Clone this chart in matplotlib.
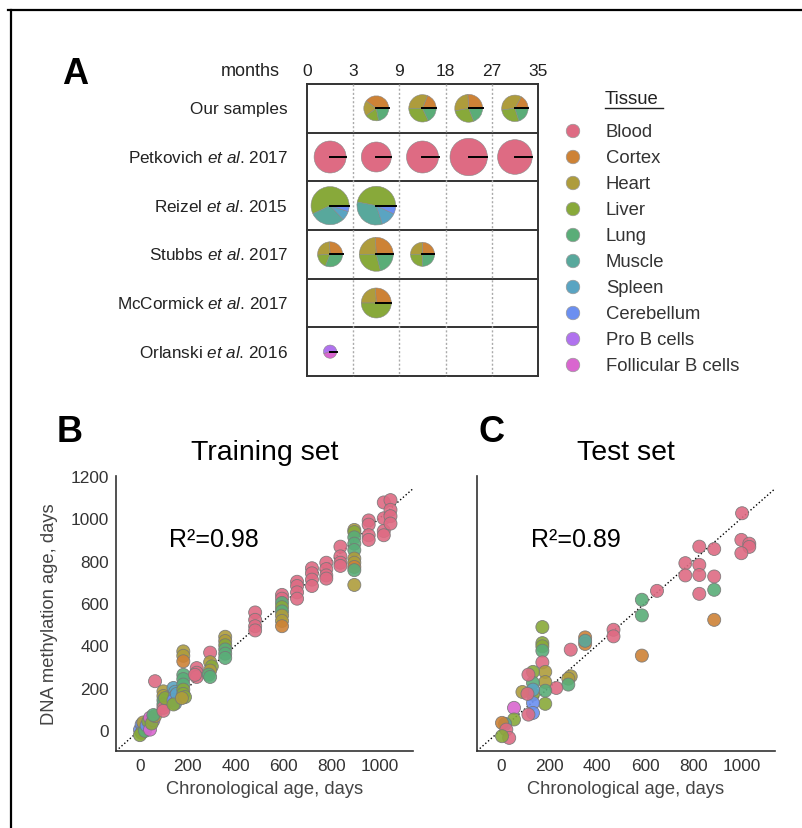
import numpy as np
import matplotlib
matplotlib.use('Agg')
import matplotlib.pyplot as plt
from matplotlib.patches import Wedge

plt.rcParams['font.family'] = ['Liberation Sans', 'DejaVu Sans']
plt.rcParams['mathtext.fontset'] = 'custom'
plt.rcParams['mathtext.rm'] = 'Liberation Sans'
plt.rcParams['mathtext.it'] = 'Liberation Sans:italic'

# tissues and colours
tissues = ['Blood', 'Cortex', 'Heart', 'Liver', 'Lung', 'Muscle', 'Spleen',
           'Cerebellum', 'Pro B cells', 'Follicular B cells']
tissue_colors = ['#de6b83', '#cd8236', '#ae9c3c', '#88a93a', '#5aad78',
                 '#58a89c', '#5aa4c2', '#6b8ff0', '#b072ee', '#d966cf']

# panel A data
studies = ['Our samples', r'Petkovich $\mathit{et\ al}$. 2017', r'Reizel $\mathit{et\ al}$. 2015',
           r'Stubbs $\mathit{et\ al}$. 2017', r'McCormick $\mathit{et\ al}$. 2017',
           r'Orlanski $\mathit{et\ al}$. 2016']
months = ['0', '3', '9', '18', '27', '35']
# relative sample size of each pie (0 = no samples)
pie_n = [[0, 25, 30, 31, 28],
         [41, 36, 41, 56, 48],
         [58, 60, 0, 0, 0],
         [25, 46, 23, 0, 0],
         [0, 36, 0, 0, 0],
         [7, 0, 0, 0, 0]]
our_mix = [None,
           {'Cortex': .40, 'Heart': .20, 'Liver': .18, 'Lung': .22},
           {'Cortex': .19, 'Heart': .31, 'Liver': .32, 'Lung': .18},
           {'Cortex': .26, 'Heart': .27, 'Liver': .28, 'Lung': .19},
           {'Cortex': .17, 'Heart': .35, 'Liver': .28, 'Lung': .20}]
petkovich_mix = [{'Blood': 1}] * 5
reizel_mix = [{'Liver': .57, 'Muscle': .30, 'Spleen': .08, 'Cerebellum': .05},
              {'Liver': .47, 'Muscle': .33, 'Spleen': .13, 'Cerebellum': .07},
              None, None, None]
stubbs_mix = [{'Cortex': .26, 'Heart': .25, 'Liver': .18, 'Lung': .31},
              {'Cortex': .26, 'Heart': .24, 'Liver': .29, 'Lung': .21},
              {'Cortex': .25, 'Heart': .25, 'Liver': .25, 'Lung': .25},
              None, None]
mccormick_mix = [None, {'Cortex': .26, 'Heart': .24, 'Liver': .50}, None, None, None]
orlanski_mix = [{'Pro B cells': .55, 'Follicular B cells': .45}, None, None, None, None]
pie_mix = [our_mix, petkovich_mix, reizel_mix, stubbs_mix, mccormick_mix, orlanski_mix]

# panel B: training set (chronological age, predicted age, tissue)
train_age = [0, 7, 14, 7, 0, 14, 21, 28, 35, 42, 42, 56, 49, 63, 56, 63,
             98, 98, 98, 98, 98, 98, 105,
             140, 147, 147, 140, 147, 154, 140,
             181, 181, 181, 181, 181, 181, 181, 181, 188, 175,
             237, 237, 237, 230,
             293, 293, 300, 293, 287, 293,
             356, 356, 356, 356, 356, 356,
             481, 481, 481, 481,
             593, 593, 593, 593, 593, 593, 593, 593,
             656, 656, 656, 656,
             718, 718, 718, 718,
             778, 778, 778, 778,
             837, 837, 837, 837,
             895, 895, 895, 895, 895, 895, 895, 895, 895, 895,
             955, 955, 955, 955,
             1018, 1018, 1018, 1018,
             1046, 1046, 1046, 1046]
train_pred = [0, 25, 10, -14, -25, 35, -5, 20, 40, 57, 1, 45, 30, 65, 70, 230,
              182, 160, 140, 120, 104, 90, 150,
              198, 180, 160, 140, 125, 170, 120,
              371, 350, 324, 260, 240, 214, 190, 170, 155, 150,
              292, 270, 250, 260,
              365, 320, 300, 280, 261, 250,
              440, 420, 400, 380, 360, 340,
              555, 520, 490, 470,
              638, 620, 600, 580, 560, 540, 515, 490,
              700, 680, 650, 620,
              764, 740, 710, 680,
              790, 760, 730, 715,
              866, 820, 790, 775,
              945, 935, 910, 880, 850, 810, 790, 770, 755, 685,
              990, 970, 920, 898,
              1075, 1000, 940, 920,
              1086, 1040, 1010, 975]
train_tissue = ['Cerebellum', 'Cerebellum', 'Cerebellum', 'Liver', 'Liver', 'Heart', 'Lung',
                'Cerebellum', 'Liver', 'Follicular B cells', 'Follicular B cells', 'Pro B cells',
                'Liver', 'Heart', 'Lung', 'Blood',
                'Heart', 'Heart', 'Lung', 'Lung', 'Blood', 'Blood', 'Liver',
                'Spleen', 'Spleen', 'Cerebellum', 'Cerebellum', 'Spleen', 'Spleen', 'Liver',
                'Heart', 'Heart', 'Cortex', 'Lung', 'Lung', 'Lung', 'Liver', 'Liver', 'Liver', 'Heart',
                'Blood', 'Blood', 'Blood', 'Blood',
                'Blood', 'Heart', 'Liver', 'Heart', 'Lung', 'Lung',
                'Heart', 'Heart', 'Liver', 'Lung', 'Lung', 'Lung',
                'Blood', 'Blood', 'Blood', 'Blood',
                'Blood', 'Blood', 'Lung', 'Liver', 'Lung', 'Heart', 'Heart', 'Cortex',
                'Blood', 'Blood', 'Blood', 'Blood',
                'Blood', 'Blood', 'Blood', 'Blood',
                'Blood', 'Blood', 'Blood', 'Blood',
                'Blood', 'Blood', 'Blood', 'Blood',
                'Heart', 'Liver', 'Lung', 'Lung', 'Lung', 'Heart', 'Heart', 'Cortex', 'Lung', 'Heart',
                'Blood', 'Blood', 'Blood', 'Blood',
                'Blood', 'Blood', 'Blood', 'Blood',
                'Blood', 'Blood', 'Blood', 'Blood']

# panel C: test set
test_age = [1003, 1000, 1033, 1033, 1000, 825, 887, 767, 767, 825, 825, 825, 887, 887, 887,
            649, 586, 586, 586, 468, 468, 350, 350, 350, 290, 290, 280, 280, 230,
            172, 172, 172, 172, 172, 184, 184, 184, 184,
            133, 133, 133, 133, 133, 133, 114, 114, 89, 110,
            54, 54, 17, 4, 22, 34, 4]
test_pred = [1024, 898, 880, 865, 835, 866, 855, 788, 730, 780, 732, 643, 725, 662, 520,
             657, 615, 541, 351, 473, 442, 437, 406, 421, 379, 253, 242, 214, 198,
             486, 410, 395, 374, 319, 274, 226, 185, 123,
             274, 222, 167, 190, 127, 80, 261, 72, 179, 170,
             104, 49, 28, 33, 1, -38, -30]
test_tissue = ['Blood', 'Blood', 'Blood', 'Blood', 'Blood', 'Blood', 'Blood', 'Blood', 'Blood',
               'Blood', 'Blood', 'Blood', 'Blood', 'Lung', 'Cortex',
               'Blood', 'Lung', 'Lung', 'Cortex', 'Blood', 'Blood', 'Cortex', 'Cortex', 'Muscle',
               'Blood', 'Heart', 'Heart', 'Lung', 'Blood',
               'Liver', 'Liver', 'Liver', 'Lung', 'Blood', 'Heart', 'Heart', 'Lung', 'Liver',
               'Liver', 'Lung', 'Liver', 'Spleen', 'Cerebellum', 'Cerebellum', 'Blood', 'Blood',
               'Heart', 'Blood',
               'Follicular B cells', 'Liver', 'Muscle', 'Cortex', 'Blood', 'Blood', 'Liver']

cmap = dict(zip(tissues, tissue_colors))

fig = plt.figure(figsize=(8.03, 8.29), dpi=100)

# whole figure overlay in pixel units for panel A
ax_a = fig.add_axes([0, 0, 1, 1])
ax_a.set_xlim(0, 803)
ax_a.set_ylim(829, 0)
ax_a.axis('off')

ax_a.plot([8, 803], [11, 11], color='k', lw=1.6, clip_on=False)
ax_a.plot([11, 11], [11, 829], color='k', lw=1.6, clip_on=False)

col_edges = np.linspace(307, 538, 6)
row_edges = np.linspace(85, 377, 7)
col_mid = (col_edges[:-1] + col_edges[1:]) / 2
row_mid = (row_edges[:-1] + row_edges[1:]) / 2

for y in row_edges:
    ax_a.plot([col_edges[0], col_edges[-1]], [y, y], color='#333333', lw=1.4)
for x in [col_edges[0], col_edges[-1]]:
    ax_a.plot([x, x], [row_edges[0], row_edges[-1]], color='#333333', lw=1.4)
for x in col_edges[1:-1]:
    ax_a.plot([x, x], [row_edges[0], row_edges[-1]], color='#aaaaaa', lw=1, ls=(0, (1.5, 1.5)))

ax_a.text(280, 71, 'months', ha='right', va='center', fontsize=13, color='#222222')
for x, m in zip(col_edges, months):
    ax_a.text(x, 71, m, ha='center', va='center', fontsize=12.5, color='#222222')

for i, s in enumerate(studies):
    ax_a.text(288, row_mid[i], s, ha='right', va='center', fontsize=12.3, color='#222222')

for i in range(len(studies)):
    for j in range(5):
        mix = pie_mix[i][j]
        if mix is None or pie_n[i][j] == 0:
            continue
        r = 2.5 * np.sqrt(pie_n[i][j])
        cx, cy = col_mid[j], row_mid[i]
        start = 0
        for t in tissues:
            if t not in mix:
                continue
            ang = 360 * mix[t]
            # y axis is inverted, so negate angles to keep counterclockwise
            ax_a.add_patch(Wedge((cx, cy), r, -(start + ang), -start, facecolor=cmap[t],
                                 edgecolor='#888888', lw=0.4))
            start += ang
        ax_a.plot([cx, cx + r], [cy, cy], color='k', lw=1.4)

# legend
ax_a.text(605, 99, 'Tissue', ha='left', va='center', fontsize=13.3, color='#222222')
ax_a.plot([605, 663], [109, 109], color='#222222', lw=1)
leg_y = 132 + 26 * np.arange(len(tissues))
ax_a.scatter(np.full(len(tissues), 573), leg_y, s=95, c=tissue_colors,
             edgecolors='#999999', linewidths=0.5)
for y, t in zip(leg_y, tissues):
    ax_a.text(606, y, t, ha='left', va='center', fontsize=13.3, color='#333333')

for lab, x, y in [('A', 75, 74), ('B', 70, 432), ('C', 492, 432)]:
    ax_a.text(x, y, lab, ha='center', va='center', fontsize=26, fontweight='bold')

# panels B and C
ax_b = fig.add_axes([116 / 803, 1 - 752 / 829, (413 - 116) / 803, (752 - 477) / 829])
ax_c = fig.add_axes([477 / 803, 1 - 752 / 829, (775 - 477) / 803, (752 - 477) / 829])

for ax, xs, ys, ts, title, r2 in [(ax_b, train_age, train_pred, train_tissue, 'Training set', '0.98'),
                                   (ax_c, test_age, test_pred, test_tissue, 'Test set', '0.89')]:
    ax.plot([-100, 1200], [-100, 1200], ls=':', color='k', lw=1, zorder=2)
    ax.scatter(xs, ys, c=[cmap[t] for t in ts], s=88, edgecolors='#777777',
               linewidths=0.6, alpha=0.9, zorder=3)
    ax.set_xlim(-100, 1140)
    ax.set_ylim(-100, 1200)
    ax.set_xticks([0, 200, 400, 600, 800, 1000])
    ax.set_yticks([0, 200, 400, 600, 800, 1000, 1200])
    ax.tick_params(length=0, labelsize=12.4, labelcolor='#333333', pad=5)
    for sp in ['top', 'right']:
        ax.spines[sp].set_visible(False)
    for sp in ['left', 'bottom']:
        ax.spines[sp].set_color('#333333')
        ax.spines[sp].set_linewidth(1.2)
    ax.set_xlabel('Chronological age, days', fontsize=13.2, color='#444444', labelpad=5)
    ax.set_title(title, fontsize=20.5, pad=12)
    ax.text(0.18, 0.77, 'R²=' + r2, transform=ax.transAxes, fontsize=18, va='center')

ax_b.set_ylabel('DNA methylation age, days', fontsize=13.2, color='#444444', labelpad=9)
ax_c.set_yticklabels([])

fig.savefig('out.png', dpi=100)
